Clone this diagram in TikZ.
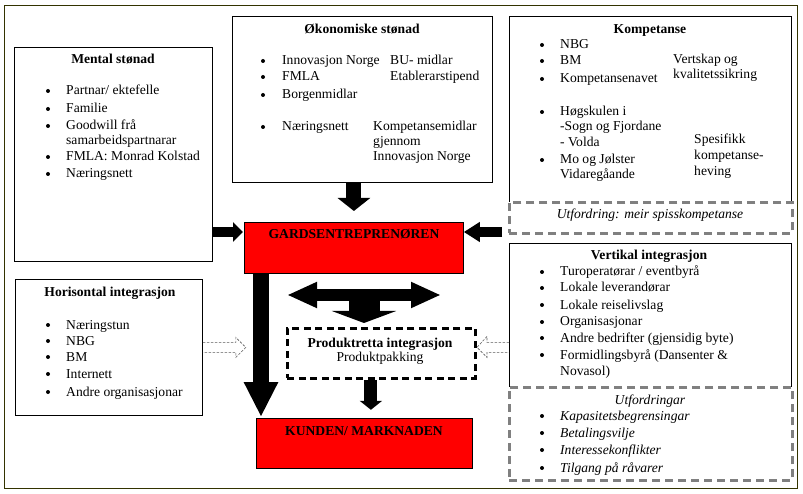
\documentclass[tikz,border=0pt]{standalone}
\usepackage{fontspec}
\setmainfont{Liberation Serif}
\usetikzlibrary{arrows.meta,calc}
\newcommand\fs{\fontsize{13.6}{16}\selectfont}
\definecolor{frameol}{RGB}{51,51,0}
\definecolor{dgray}{RGB}{128,128,128}
\definecolor{hgray}{RGB}{90,90,90}
\newcommand\bitem[5]{\fill (#2,#4) circle (2pt); \node[txt] (#1) at (#3,#4+4) {#5};}
\newcommand\litem[4]{\node[txt] (#1) at (#2,#3+4) {#4};}
\newcommand\ctitle[4]{\node[ttl] (#1) at (#2,#3+5) {#4};}
\begin{document}
\begin{tikzpicture}[x=1pt,y=-1pt,
  txt/.style={anchor=base west, inner sep=0pt, font=\fs},
  ttl/.style={anchor=base, inner sep=0pt, font=\fs\bfseries},
  box/.style={draw, line width=0.8pt, inner sep=0pt, anchor=north west, fill=white},
  redbox/.style={box, fill=red},
  gbox/.style={draw=dgray, line width=2.8pt, dash pattern=on 8pt off 5pt, fill=white, anchor=north west, inner sep=0pt},
  pbox/.style={draw=black, line width=2.8pt, dash pattern=on 7pt off 4.5pt, fill=white, anchor=north west, inner sep=0pt},
  hol/.style={draw=hgray, line width=0.6pt, dash pattern=on 2.5pt off 1.5pt}]
\useasboundingbox (0,0) rectangle (803,494);
% outer frame
\node[draw=frameol, line width=1pt, anchor=north west, inner sep=0pt, minimum width=793pt, minimum height=483pt] (frame) at (4,5) {};
% boxes
\node[box, minimum width=198pt, minimum height=214pt] (ms) at (14,47) {};
\node[box, minimum width=260pt, minimum height=166pt] (oek) at (232,16) {};
\node[box, minimum width=282pt, minimum height=195pt] (komp) at (509,16) {};
\node[gbox, minimum width=283pt, minimum height=31pt] (kud) at (508,201) {};
\node[redbox, minimum width=219pt, minimum height=51pt] (gard) at (244,222) {};
\node[box, minimum width=187pt, minimum height=136pt] (hor) at (15,279) {};
\node[box, minimum width=282pt, minimum height=155pt] (vert) at (509,243) {};
\node[gbox, minimum width=283pt, minimum height=93pt] (vud) at (508,386) {};
\node[pbox, minimum width=188pt, minimum height=50pt] (prod) at (286,327) {};
\node[redbox, minimum width=216pt, minimum height=50pt] (kund) at (256,418) {};
% coordinates
\coordinate (gl) at ($(gard.north west)+(0,10)$);
\coordinate (gr) at ($(gard.north east)+(0,10)$);
\coordinate (gd) at ($(gard.south west)+(17,0)$);
\coordinate (dc) at (364,295);
\coordinate (hl) at (hor.east);
\coordinate (vl) at (vert.west |- hor.east);
% block arrows
\draw[line width=15pt, -{Triangle[width=32pt,length=13pt]}] (oek.south -| gard.north) -- ($(gard.north)+(0,-11)$);
\draw[line width=10pt, -{Triangle[width=19pt,length=10pt]}] (ms.east |- gl) -- ($(gl)+(-1,0)$);
\draw[line width=10pt, -{Triangle[width=19pt,length=16pt]}] ($(komp.west |- gr)+(-7,0)$) -- (gr);
\draw[line width=16pt, -{Triangle[width=32pt,length=35pt]}] (gd) -- ($(gd |- kund.north)+(0,-1)$);
\draw[line width=12pt, {Triangle[width=24pt,length=30pt]}-{Triangle[width=24pt,length=30pt]}] ($(dc)+(-77,0)$) -- ($(dc)+(77,0)$);
\draw[line width=31pt, -{Triangle[width=64pt,length=12pt]}] ($(dc)+(0,-6)$) -- ($(dc)+(0,28)$);
\draw[line width=13pt, -{Triangle[width=22pt,length=9pt]}] ($(prod.south)+(-10.5,0)$) -- ($(prod.south)+(-10.5,30)$);
% hollow dashed arrows
\draw[hol] (hl) ++(0,-5) -- ++(33,0) -- ++(0,-5) -- ++(10,10) -- ++(-10,10) -- ++(0,-5) -- ++(-33,0);
\draw[hol] (vl) ++(0,-5) -- ++(-22,0) -- ++(0,-6) -- ++(-10,11) -- ++(10,10) -- ++(0,-5) -- ++(22,0);
% Mental stonad
\ctitle{mst}{113}{59}{Mental stønad}
\bitem{m1}{48}{66}{91}{Partnar/ ektefelle}
\bitem{m2}{48}{66}{109}{Familie}
\bitem{m3}{48}{66}{126}{Goodwill frå}
\litem{m3b}{66}{141}{samarbeidspartnarar}
\bitem{m4}{48}{66}{157}{FMLA: Monrad Kolstad}
\bitem{m5}{48}{66}{174}{Næringsnett}
% Okonomiske stonad
\ctitle{ost}{362}{29}{Økonomiske stønad}
\bitem{o1}{263}{282}{61}{Innovasjon Norge}
\bitem{o2}{263}{282}{77}{FMLA}
\bitem{o3}{263}{282}{95}{Borgenmidlar}
\bitem{o4}{263}{282}{127}{Næringsnett}
\litem{o5}{390}{61}{BU- midlar}
\litem{o6}{390}{77}{Etablerarstipend}
\litem{o7}{373}{127}{Kompetansemidlar}
\litem{o8}{373}{142}{gjennom}
\litem{o9}{373}{157}{Innovasjon Norge}
% Kompetanse
\ctitle{kt}{650}{29}{Kompetanse}
\bitem{k1}{542}{560}{45}{NBG}
\bitem{k2}{542}{560}{61}{BM}
\bitem{k3}{542}{560}{79}{Kompetansenavet}
\bitem{k4}{542}{560}{112}{Høgskulen i}
\litem{k5}{560}{127}{-Sogn og Fjordane}
\litem{k6}{560}{143}{- Volda}
\bitem{k7}{542}{560}{160}{Mo og Jølster}
\litem{k8}{560}{175}{Vidaregåande}
\litem{k9}{673}{60}{Vertskap og}
\litem{k10}{673}{75}{kvalitetssikring}
\litem{k11}{694}{140}{Spesifikk}
\litem{k12}{694}{156}{kompetanse-}
\litem{k13}{694}{172}{heving}
\node[ttl, font=\fs\itshape] (kut) at (650,219) {Utfordring: meir spisskompetanse};
% Vertikal integrasjon
\ctitle{vt}{649}{255}{Vertikal integrasjon}
\bitem{v1}{542}{560}{272}{Turoperatørar / eventbyrå}
\bitem{v2}{542}{560}{288}{Lokale leverandørar}
\bitem{v3}{542}{560}{305}{Lokale reiselivslag}
\bitem{v4}{542}{560}{322}{Organisasjonar}
\bitem{v5}{542}{560}{338}{Andre bedrifter (gjensidig byte)}
\bitem{v6}{542}{560}{355}{Formidlingsbyrå (Dansenter \&}
\litem{v7}{560}{371}{Novasol)}
\node[ttl, font=\fs\itshape] (vut) at (650,404) {Utfordringar};
\bitem{u1}{542}{560}{416}{\itshape Kapasitetsbegrensingar}
\bitem{u2}{542}{560}{433}{\itshape Betalingsvilje}
\bitem{u3}{542}{560}{450}{\itshape Interessekonflikter}
\bitem{u4}{542}{560}{468}{\itshape Tilgang på råvarer}
% Horisontal integrasjon
\ctitle{ht}{110}{292}{Horisontal integrasjon}
\bitem{h1}{48}{66}{325}{Næringstun}
\bitem{h2}{48}{66}{341}{NBG}
\bitem{h3}{48}{66}{357}{BM}
\bitem{h4}{48}{66}{374}{Internett}
\bitem{h5}{48}{66}{392}{Andre organisasjonar}
% centre texts
\ctitle{gt}{354}{234}{GARDSENTREPRENØREN}
\ctitle{kdt}{364}{430}{KUNDEN/ MARKNADEN}
\ctitle{pt1}{380}{342}{Produktretta integrasjon}
\node[ttl, font=\fs] (pt2) at (380,361) {Produktpakking};
\end{tikzpicture}
\end{document}
